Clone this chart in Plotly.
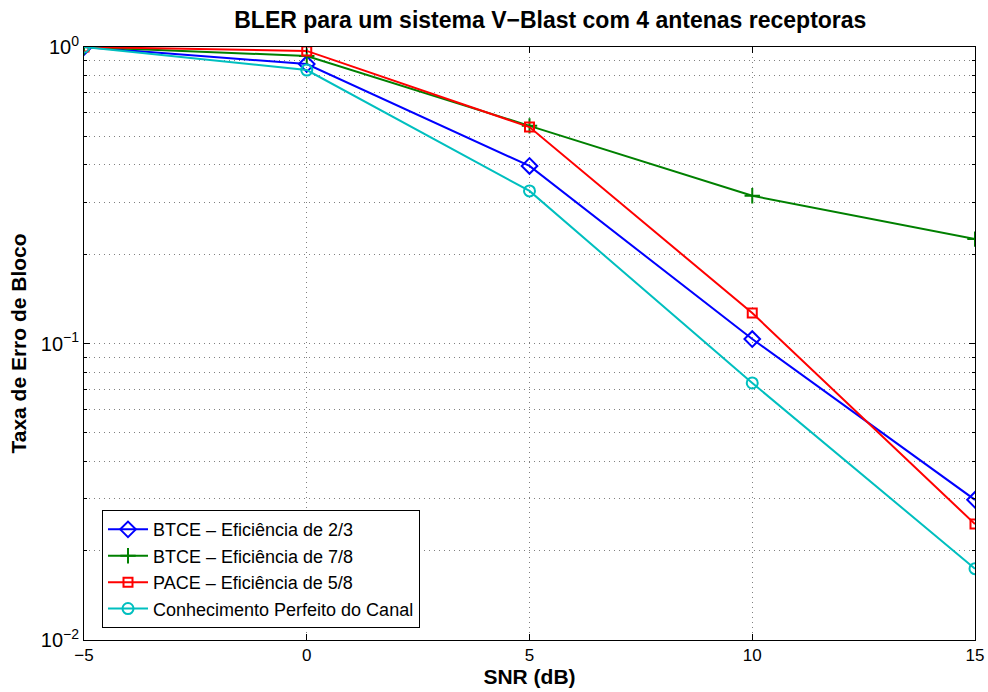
import plotly.graph_objs as go

snr = [-5, 0, 5, 10, 15]

bler_btce_23 = [1.0, 0.876, 0.397, 0.1035, 0.0297]
bler_btce_78 = [1.0, 0.933, 0.542, 0.315, 0.225]
bler_pace_58 = [1.0, 0.970, 0.537, 0.1267, 0.0246]
bler_perfeito = [1.0, 0.836, 0.327, 0.0736, 0.0174]

x_ticks = [-5, 0, 5, 10, 15]
x_ticktext = ['\u22125', '0', '5', '10', '15']
y_ticks = [0.01, 0.1, 1]
y_ticktext = ['10<sup>\u22122</sup>', '10<sup>\u22121</sup>', '10<sup>0</sup>']
y_minor = [m * d for d in (0.01, 0.1) for m in range(2, 10)]

series = [
    ('BTCE \u2013 Efici\u00eancia de 2/3', bler_btce_23, 'blue', 'diamond-open', 12),
    ('BTCE \u2013 Efici\u00eancia de 7/8', bler_btce_78, 'green', 'cross-thin-open', 11),
    ('PACE \u2013 Efici\u00eancia de 5/8', bler_pace_58, 'red', 'square-open', 9),
    ('Conhecimento Perfeito do Canal', bler_perfeito, '#00bfbf', 'circle-open', 11),
]

fig = go.Figure()

for name, y, color, symbol, size in series:
    fig.add_trace(go.Scatter(
        x=snr, y=y, mode='lines+markers', name=name,
        line=dict(color=color, width=2),
        marker=dict(symbol=symbol, size=size, color=color,
                    line=dict(color=color, width=2)),
    ))

font = 'Liberation Sans, Arial, Helvetica, sans-serif'
grid = dict(showgrid=True, gridcolor='#808080', griddash='1px,4px', gridwidth=1)

fig.update_layout(
    width=988, height=692,
    margin=dict(l=84, r=13, t=47, b=52),
    paper_bgcolor='white', plot_bgcolor='white',
    font=dict(family=font, size=17, color='black'),
    title=dict(text='<b>BLER para um sistema V\u2212Blast com 4 antenas receptoras</b>',
               x=0.557, xanchor='center', y=0.971, yanchor='middle',
               font=dict(size=23)),
    legend=dict(x=0.0202, y=0.02, xanchor='left', yanchor='bottom',
                bgcolor='white', bordercolor='black', borderwidth=1,
                font=dict(size=18), tracegroupgap=0, itemwidth=40),
    showlegend=True,
)

fig.update_xaxes(
    range=[-5, 15], tickvals=x_ticks, ticktext=x_ticktext,
    showline=True, linecolor='black', linewidth=1, mirror='allticks',
    ticks='inside', ticklen=6, tickcolor='black',
    zeroline=False, automargin=False,
    title=dict(text='<b>SNR (dB)</b>', font=dict(size=21), standoff=2),
    **grid,
)

fig.update_yaxes(
    type='log', range=[-2, 0], tickvals=y_ticks, ticktext=y_ticktext,
    tickfont=dict(size=20),
    showline=True, linecolor='black', linewidth=1, mirror='allticks',
    ticks='inside', ticklen=6, tickcolor='black',
    minor=dict(tickvals=y_minor, ticks='inside', ticklen=3, tickcolor='black', **grid),
    zeroline=False, automargin=False,
    title=dict(text='<b>Taxa de Erro de Bloco</b>', font=dict(size=21), standoff=8),
    **grid,
)

# drop the default 8px body margin so the figure fills the window exactly
fig.write_html("out.html", config=dict(displayModeBar=False),
               post_script="document.body.style.margin='0';"
                           "document.body.style.overflow='hidden';")
